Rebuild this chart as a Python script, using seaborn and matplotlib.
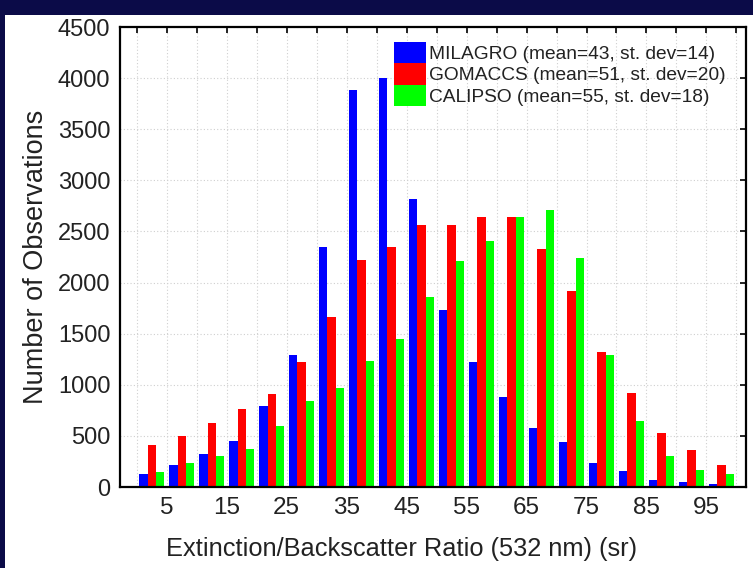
import numpy as np
import pandas as pd
import matplotlib
matplotlib.use("Agg")
import matplotlib.pyplot as plt
from matplotlib.patches import Rectangle
import seaborn as sns

# Bin centers (sr)
bins = [2.5, 7.5, 12.5, 17.5, 22.5, 27.5, 32.5, 37.5, 42.5, 47.5,
        52.5, 57.5, 62.5, 67.5, 72.5, 77.5, 82.5, 87.5, 92.5, 97.5]
milagro = [124, 212, 326, 446, 791, 1289, 2350, 3880, 4004, 2822,
           1732, 1221, 879, 580, 440, 235, 153, 65, 49, 26]
gomaccs = [407, 495, 625, 762, 911, 1221, 1660, 2223, 2350, 2562,
           2562, 2644, 2644, 2325, 1914, 1325, 922, 531, 365, 212]
calipso = [150, 234, 300, 371, 599, 837, 970, 1237, 1449, 1862,
           2214, 2403, 2637, 2712, 2240, 1293, 642, 303, 163, 130]
series_names = ["MILAGRO (mean=43, st. dev=14)",
                "GOMACCS (mean=51, st. dev=20)",
                "CALIPSO (mean=55, st. dev=18)"]
colors = ["#0000ff", "#ff0000", "#00ff00"]
xticks = list(range(0, 101, 5))
xlabels = ["", "5", "", "15", "", "25", "", "35", "", "45", "", "55", "", "65", "", "75",
           "", "85", "", "95", ""]
yticks = list(range(0, 4501, 500))

df = pd.DataFrame({
    "bin": bins * 3,
    "count": milagro + gomaccs + calipso,
    "series": [series_names[0]] * len(bins) + [series_names[1]] * len(bins) + [series_names[2]] * len(bins),
})

sns.set_theme(style="white")
plt.rcParams["font.family"] = ["Liberation Sans", "DejaVu Sans"]

fig = plt.figure(figsize=(7.53, 5.68), dpi=100)
fig.patch.set_facecolor("#0b0b48")
fig.patches.append(Rectangle((5 / 753, 0), 748 / 753, 553 / 568, transform=fig.transFigure,
                             facecolor="white", edgecolor="none", zorder=-10))
ax = fig.add_axes([120 / 753, 1 - 487 / 568, (746 - 120) / 753, (487 - 27) / 568])

sns.barplot(data=df, x="bin", y="count", hue="series", palette=colors,
            native_scale=True, width=0.84, saturation=1, ax=ax, legend=True,
            edgecolor="none", linewidth=0)

ax.set_xlim(-2.8, 101.6)
ax.set_ylim(0, 4500)
ax.set_xticks(xticks)
ax.set_xticklabels(xlabels)
ax.set_yticks(yticks)
ax.set_yticklabels([str(v) for v in yticks])
ax.tick_params(axis="both", which="major", direction="in", length=4, width=1.2,
               top=True, right=True, color="black", labelcolor="#222222")
ax.tick_params(axis="x", labelsize=17.5, pad=7)
ax.tick_params(axis="y", labelsize=17, pad=7)
ax.grid(True, which="major", color="#cfcfcf", linestyle=(0, (1, 2)), linewidth=0.8)
ax.set_axisbelow(True)
for s in ax.spines.values():
    s.set_color("black")
    s.set_linewidth(1.6)
ax.set_facecolor("white")

ax.set_xlabel("Extinction/Backscatter Ratio (532 nm) (sr)", fontsize=18.3, color="#222222")
ax.set_ylabel("Number of Observations", fontsize=19.5, color="#222222", labelpad=6)
ax.xaxis.set_label_coords(0.449, -0.108)

leg = ax.legend(loc="upper right", bbox_to_anchor=(0.968, 0.968), frameon=False, fontsize=13.8,
                handlelength=1.7, handleheight=1.35, handletextpad=0.15, labelspacing=0.0,
                borderpad=0.0, borderaxespad=0.0)
for t in leg.get_texts():
    t.set_color("#222222")

fig.savefig("out.png", dpi=100, facecolor=fig.get_facecolor())
